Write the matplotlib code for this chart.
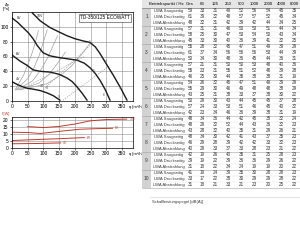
import matplotlib
matplotlib.use("Agg")
import matplotlib.pyplot as plt
import matplotlib.patches as mpatches

plt.rcParams["font.family"] = ["Liberation Sans", "DejaVu Sans"]

# --- fan curves (q [m3/h], dp [Pa]) per control voltage
v10_q = [64, 90, 121, 150, 175, 200, 226, 248, 265, 280, 300, 322, 345, 366]
v10_p = [119, 108, 99, 93, 88, 84, 81, 79, 73, 64, 50, 35, 18, 1]
v8_q = [0, 18, 35, 52, 67, 80, 99, 120, 143, 175, 207, 230, 248, 265, 280, 297, 312]
v8_p = [112, 106, 99, 92, 84, 75, 65, 61, 59, 57, 55, 51, 45, 37, 28, 15, 1]
v6_q = [0, 25, 48, 67, 90, 121, 150, 175, 192, 207, 224, 239]
v6_p = [62, 54, 48, 42, 40, 39, 36, 31, 26, 19, 10, 1]
v4_q = [0, 18, 35, 50, 67, 90, 111, 132, 153]
v4_p = [26, 22, 19, 17, 16, 14, 11, 7, 1]
curve_labels = ["10V", "8V", "6V", "4V"]

# --- system resistance curves (grey)
sys_curves = [
    ([10, 37, 53, 65, 75, 84], [15, 35, 52, 66, 80, 95]),
    ([12, 50, 71, 87, 100, 112], [15, 30, 46, 62, 80, 96]),
    ([15, 65, 92, 113, 130, 145], [15, 27, 42, 58, 74, 88]),
    ([20, 85, 120, 147, 170], [15, 24, 37, 52, 66]),
    ([25, 110, 156, 191, 220, 250], [15, 23, 35, 48, 62, 79]),
]
dashed_lines = [
    ([99, 258], [15, 79]),
    ([162, 312], [1, 48]),
    ([40, 230], [18, 60]),
]
point_q = [248, 300, 342, 207, 262, 292, 170, 112, 150, 95]
point_p = [79, 52, 18, 55, 40, 8, 30, 17, 5, 20]
point_no = ["1", "2", "3", "4", "5", "6", "7", "8", "9", "10"]

# --- power consumption P [W]
pw10_q = [50, 100, 150, 200, 250, 300, 365]
pw10_p = [15.2, 14.5, 15.3, 17.0, 19.3, 20.2, 20.5]
pw8_q = [0, 50, 90, 150, 215, 280, 320]
pw8_p = [11.2, 11.0, 10.3, 11.8, 13.3, 13.8, 14.0]
pw6_q = [0, 100, 150, 230]
pw6_p = [5.3, 6.2, 6.6, 7.4]
pw4_q = [0, 80, 155]
pw4_p = [3.0, 3.2, 3.6]

# --- sound power table
freq_cols = ["Ges", "63", "125", "250", "500", "1000", "2000", "4000", "8000"]
row_kinds = ["LWA Saugseitig", "LWA Druckseitig", "LWA Abstrahlung"]
sound_rows = [
    [59, 33, 31, 49, 52, 56, 54, 45, 35], [61, 39, 32, 48, 57, 57, 52, 45, 34], [48, 32, 31, 42, 39, 42, 44, 34, 25],
    [57, 31, 31, 46, 50, 53, 51, 44, 34], [58, 25, 30, 47, 53, 54, 50, 43, 34], [45, 33, 30, 40, 36, 39, 41, 32, 25],
    [55, 28, 32, 45, 47, 51, 49, 39, 29], [61, 37, 34, 56, 56, 56, 53, 44, 39], [50, 34, 30, 48, 36, 45, 44, 36, 31],
    [57, 21, 31, 50, 50, 53, 48, 40, 36], [55, 23, 31, 55, 51, 52, 48, 39, 28], [46, 25, 30, 44, 35, 38, 38, 31, 19],
    [54, 26, 32, 45, 47, 51, 49, 39, 29], [55, 29, 30, 46, 49, 48, 48, 38, 29], [43, 25, 31, 38, 33, 37, 38, 30, 22],
    [50, 29, 30, 43, 44, 45, 45, 37, 28], [57, 24, 33, 53, 51, 46, 45, 40, 32], [42, 23, 34, 46, 36, 39, 38, 31, 19],
    [48, 34, 36, 44, 42, 45, 38, 32, 24], [48, 29, 32, 52, 44, 43, 36, 32, 23], [43, 28, 32, 40, 35, 31, 29, 26, 21],
    [48, 34, 30, 42, 41, 43, 37, 35, 23], [46, 29, 28, 39, 42, 42, 33, 32, 23], [40, 29, 33, 37, 33, 28, 23, 21, 22],
    [42, 19, 26, 40, 35, 31, 25, 28, 23], [39, 19, 22, 39, 36, 36, 29, 26, 22], [31, 18, 22, 34, 24, 19, 19, 20, 22],
    [41, 19, 24, 39, 35, 30, 28, 28, 23], [33, 17, 22, 38, 30, 29, 29, 28, 22], [31, 18, 21, 33, 21, 23, 20, 25, 22],
]

W, H = 300, 240
fig = plt.figure(figsize=(3, 2.4), dpi=100)


def px_axes(x0, y0, x1, y1):
    # pixel box (top-left origin) -> figure axes
    return fig.add_axes([x0 / W, 1 - y1 / H, (x1 - x0) / W, (y1 - y0) / H])


fs = 3.5
grid_kw = dict(color="#8c8c8c", lw=0.4)

# ---------------- pressure chart
ax = px_axes(12, 12, 133, 101)
ax.set_xlim(0, 385)
ax.set_ylim(0, 120)
ax.set_xticks(range(0, 351, 50))
ax.set_yticks(range(0, 101, 20))
ax.grid(True, **grid_kw)
for qs, ps in sys_curves:
    ax.plot(qs, ps, color="#a0a0a0", lw=0.5)
for qs, ps in dashed_lines:
    ax.plot(qs, ps, color="#a0a0a0", lw=0.5, ls=(0, (2, 1.5)))
for qs, ps in [(v10_q, v10_p), (v8_q, v8_p), (v6_q, v6_p), (v4_q, v4_p)]:
    ax.plot(qs, ps, color="#1a1a1a", lw=1.0, solid_capstyle="round", solid_joinstyle="round")
for q, p, n in zip(point_q, point_p, point_no):
    ax.text(q, p, n, fontsize=2.6, color="#555555", ha="center", va="center")
label_pos = [(88, 114), (22, 112), (20, 63), (20, 29)]
for (q, p), lbl in zip(label_pos, curve_labels):
    ax.text(q, p, lbl, fontsize=2.6, color="#222222", ha="center", va="center")
ax.text(375, 112, "TD-350/125 ECOWATT", fontsize=3.4, ha="right", va="center",
        bbox=dict(boxstyle="square,pad=0.25", fc="white", ec="#333333", lw=0.4))
ax.text(-6, 122, "Δp\n[Pa]", fontsize=2.8, ha="right", va="bottom", linespacing=0.9)
ax.text(372, -6, "q [m³/h]", fontsize=3.0, ha="left", va="top", clip_on=False)
ax.tick_params(labelsize=fs, length=1.5, width=0.4, pad=1)
for s in ax.spines.values():
    s.set_linewidth(0.5)

# ---------------- power chart
ax2 = px_axes(12, 117, 133, 148)
ax2.set_xlim(0, 385)
ax2.set_ylim(0, 22)
ax2.set_xticks(range(0, 351, 50))
ax2.set_yticks(range(0, 21, 5))
ax2.grid(True, **grid_kw)
red = "#c0392b"
for qs, ps, lbl in [(pw10_q, pw10_p, "10V"), (pw8_q, pw8_p, "8V"), (pw6_q, pw6_p, "6V"), (pw4_q, pw4_p, "4V")]:
    ax2.plot(qs, ps, color=red, lw=0.7)
    ax2.text(qs[-1] + 8, ps[-1], lbl, fontsize=2.4, color=red, va="center")
ax2.text(-6, 23, "P[W]", fontsize=2.8, color=red, ha="right", va="bottom")
ax2.text(372, -2.5, "q [m³/h]", fontsize=3.0, ha="left", va="top", clip_on=False)
ax2.tick_params(labelsize=fs, length=1.5, width=0.4, pad=1)
for s in ax2.spines.values():
    s.set_linewidth(0.5)

# ---------------- sound table
tb = px_axes(142, 0, 300, 240)
tb.set_xlim(142, 300)
tb.set_ylim(240, 0)
tb.axis("off")
col_x = [190, 202.5, 215.5, 228.5, 241.5, 254.5, 268, 281.5, 294.5]
head_h, row_h = 8, 6
tb.add_patch(mpatches.Rectangle((142, 0), 158, head_h, fc="#e6e6e6", ec="none"))
tb.add_patch(mpatches.Rectangle((142, head_h), 9, row_h * len(sound_rows), fc="#d2d2d2", ec="none"))
tb.text(166, head_h / 2, "Betriebspunkt / Hz", fontsize=3.1, ha="center", va="center")
for x, c in zip(col_x, freq_cols):
    tb.text(x, head_h / 2, c, fontsize=3.1, ha="center", va="center")
tb.plot([142, 300], [head_h, head_h], color="#777777", lw=0.5)
txt_c = "#3a3a3a"
for i, vals in enumerate(sound_rows):
    y = head_h + row_h * (i + 0.5)
    if i % 3 == 0:
        tb.plot([142, 300], [head_h + row_h * i] * 2, color="#a0a0a0", lw=0.4)
        tb.text(146.5, y + row_h, str(i // 3 + 1), fontsize=fs, ha="center", va="center", color=txt_c)
    else:
        tb.plot([151, 300], [head_h + row_h * i] * 2, color="#e0e0e0", lw=0.3)
    tb.text(169, y, row_kinds[i % 3], fontsize=3.1, ha="center", va="center", color=txt_c)
    for x, v in zip(col_x, vals):
        tb.text(x, y, str(v), fontsize=3.3, ha="center", va="center", color=txt_c)
end_y = head_h + row_h * len(sound_rows)
tb.plot([142, 300], [end_y, end_y], color="#a0a0a0", lw=0.4)
tb.plot([150, 300], [197, 197], color="#cccccc", lw=0.4)
tb.text(152, 202, "Schallleistungspegel [dB(A)]", fontsize=3.0, ha="left", va="center", color=txt_c)

fig.savefig("out.png", dpi=100)
